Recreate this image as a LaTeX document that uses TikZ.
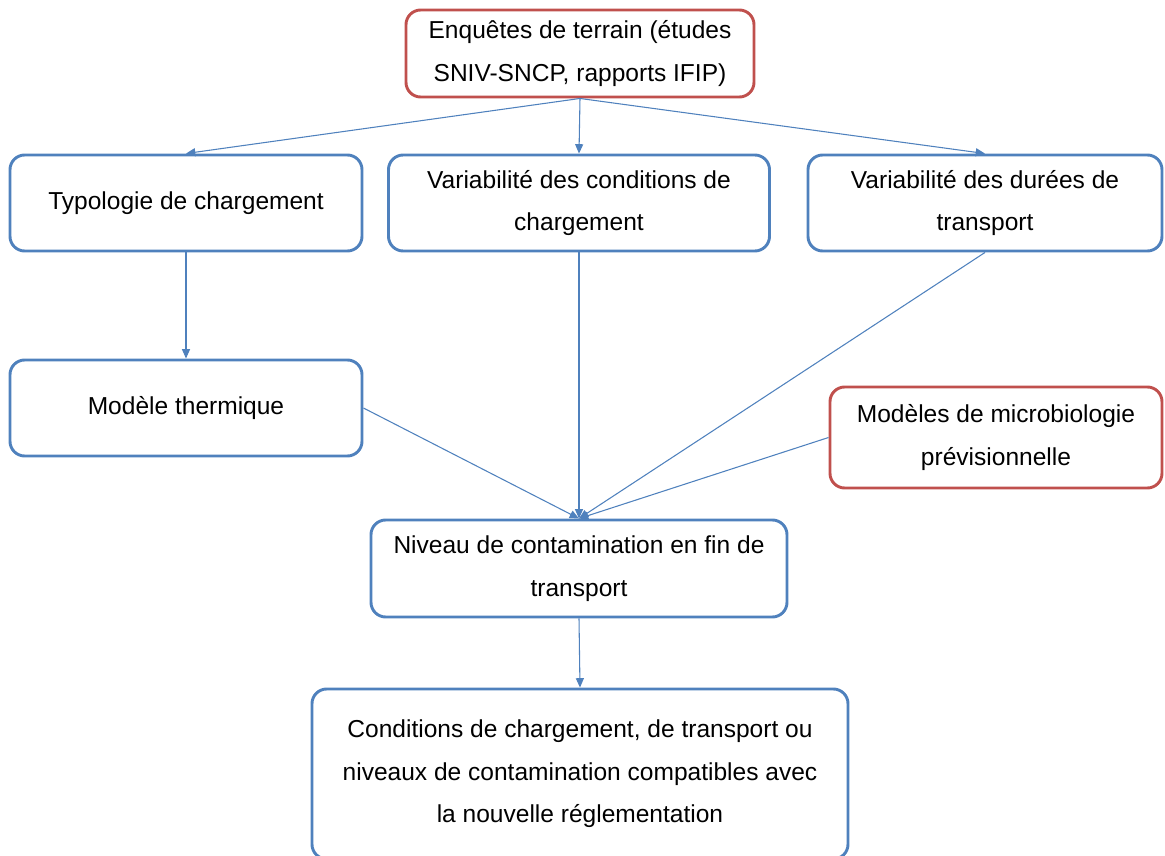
\documentclass[tikz,border=0pt]{standalone}
\usepackage{fontspec}
\setmainfont{Liberation Sans}
\usetikzlibrary{arrows.meta}
\definecolor{boxblue}{RGB}{79,129,189}
\definecolor{boxred}{RGB}{192,80,77}
\begin{document}
\begin{tikzpicture}[x=0.75pt,y=-0.75pt,
  box/.style={draw=boxblue,line width=2.2pt,rounded corners=11pt,fill=white,
    align=center,inner sep=0pt,font=\fontsize{18.4}{31.8}\selectfont},
  redbox/.style={box,draw=boxred},
  conn/.style={draw=boxblue,line width=0.8pt,-{Triangle[width=6pt,length=7pt]}}]
\useasboundingbox (0,0) rectangle (1165,856);
\node[redbox,minimum width=348*0.75pt,minimum height=87*0.75pt] (top) at (580,53.5)
  {Enquêtes de terrain (études\\SNIV-SNCP, rapports IFIP)};
\node[box,minimum width=352*0.75pt,minimum height=96*0.75pt] (typo) at (186,203)
  {Typologie de chargement};
\node[box,minimum width=381*0.75pt,minimum height=96*0.75pt] (varc) at (579,203)
  {Variabilité des conditions de\\chargement};
\node[box,minimum width=354*0.75pt,minimum height=96*0.75pt] (vard) at (985,203)
  {Variabilité des durées de\\transport};
\node[box,minimum width=352*0.75pt,minimum height=96*0.75pt] (therm) at (186,408)
  {Modèle thermique};
\node[redbox,minimum width=332*0.75pt,minimum height=101*0.75pt] (micro) at (996,437.5)
  {Modèles de microbiologie\\prévisionnelle};
\node[box,minimum width=416*0.75pt,minimum height=97*0.75pt] (niv) at (579,568.5)
  {Niveau de contamination en fin de\\transport};
\node[box,minimum width=536*0.75pt,minimum height=170*0.75pt] (cond) at (580,774)
  {Conditions de chargement, de transport ou\\niveaux de contamination compatibles avec\\la nouvelle réglementation};
\draw[conn] (top.south) -- (typo.north);
\draw[conn] (top.south) -- (varc.north);
\draw[conn] (top.south) -- (vard.north);
\draw[conn] (typo.south) -- (therm.north);
\draw[conn] (varc.south) -- (niv.north);
\draw[conn] (vard.south) -- (niv.north);
\draw[conn] (therm.east) -- (niv.north);
\draw[conn] (micro.west) -- (niv.north);
\draw[conn] (niv.south) -- (cond.north);
\end{tikzpicture}
\end{document}
